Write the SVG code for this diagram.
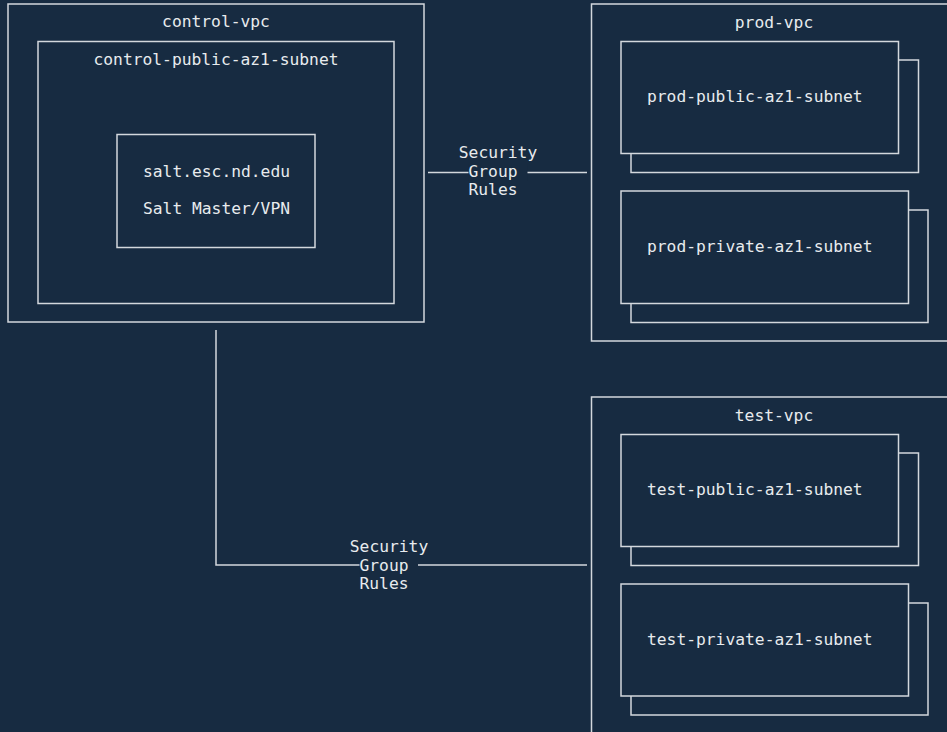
<svg xmlns="http://www.w3.org/2000/svg" width="947" height="732" viewBox="0 0 947 732">
<style>
  .box { fill: none; stroke: #d3d8dd; stroke-width: 1.5; }
  .sub { fill: #172b41; stroke: #d3d8dd; stroke-width: 1.5; }
  .t { font-family: "DejaVu Sans Mono", "Liberation Mono", monospace; font-size: 16.3px; fill: #e8ebee; }
  .c { text-anchor: middle; }
  .edge { fill: none; stroke: #d3d8dd; stroke-width: 1.5; }
  .lblbg { fill: #172b41; }
</style>
<rect x="0" y="0" width="947" height="732" fill="#172b41"/>

<g id="control-vpc">
  <rect class="box" x="8" y="4" width="416" height="318"/>
  <text class="t c" x="216" y="27">control-vpc</text>
</g>
<g id="control-public-az1-subnet">
  <rect class="box" x="38" y="41.5" width="356" height="262"/>
  <text class="t c" x="216" y="64.5">control-public-az1-subnet</text>
</g>
<g id="salt">
  <rect class="box" x="117" y="134.5" width="198" height="113"/>
  <text class="t c" x="216.5" y="177">salt.esc.nd.edu</text>
  <text class="t c" x="216.5" y="214">Salt Master/VPN</text>
</g>

<g id="prod-vpc">
  <rect class="box" x="591.5" y="4" width="365" height="337"/>
  <text class="t c" x="774" y="27.5">prod-vpc</text>
</g>
<g id="prod-public-az1-subnet">
  <rect class="sub" x="631" y="60" width="287.5" height="112.5"/>
  <rect class="sub" x="621" y="41.5" width="277.5" height="112"/>
  <text class="t" x="647" y="102">prod-public-az1-subnet</text>
</g>
<g id="prod-private-az1-subnet">
  <rect class="sub" x="631" y="210" width="297" height="112.5"/>
  <rect class="sub" x="621" y="191" width="287.5" height="112.5"/>
  <text class="t" x="647" y="252">prod-private-az1-subnet</text>
</g>

<g id="test-vpc">
  <rect class="box" x="591.5" y="397" width="365" height="345"/>
  <text class="t c" x="774" y="420.5">test-vpc</text>
</g>
<g id="test-public-az1-subnet">
  <rect class="sub" x="631" y="453" width="287.5" height="112.5"/>
  <rect class="sub" x="621" y="434.5" width="277.5" height="112"/>
  <text class="t" x="647" y="495">test-public-az1-subnet</text>
</g>
<g id="test-private-az1-subnet">
  <rect class="sub" x="631" y="603" width="297" height="112"/>
  <rect class="sub" x="621" y="584" width="287.5" height="112"/>
  <text class="t" x="647" y="645">test-private-az1-subnet</text>
</g>

<g id="connectors">
  <path class="edge" d="M428,172.5 H587"/>
  <rect class="lblbg" x="468.5" y="164" width="59" height="17"/>
  <text class="t c" x="498" y="158.3">Security</text>
  <text class="t c" x="493" y="177">Group</text>
  <text class="t c" x="493" y="195">Rules</text>

  <path class="edge" d="M216,330 V565 H587"/>
  <rect class="lblbg" x="359.5" y="557" width="58.5" height="17"/>
  <text class="t c" x="389" y="552">Security</text>
  <text class="t c" x="384" y="570.5">Group</text>
  <text class="t c" x="384" y="588.5">Rules</text>
</g>
</svg>
